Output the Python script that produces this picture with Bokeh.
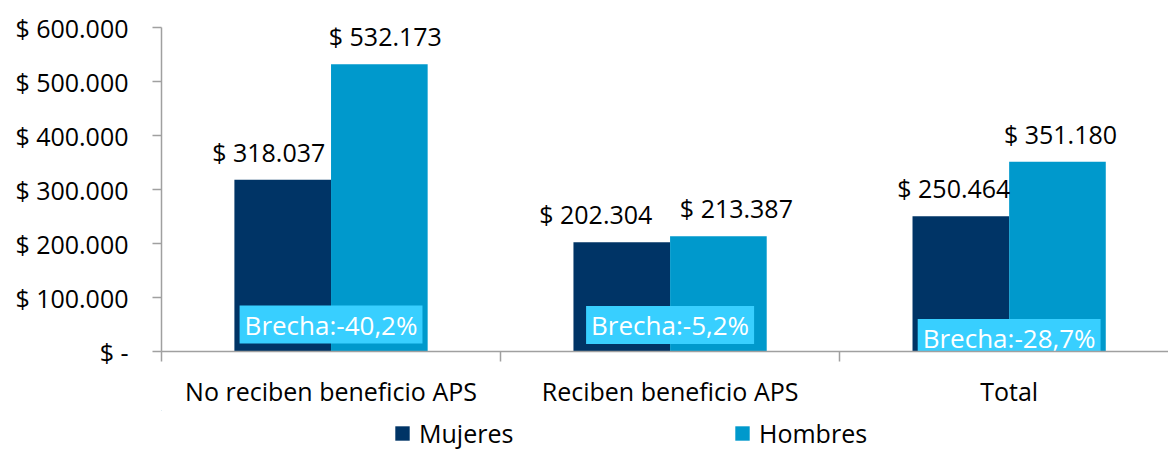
from bokeh.plotting import figure
from bokeh.layouts import column
from bokeh.models import Range1d, FixedTicker, Legend, LegendItem, ColumnDataSource
from bokeh.core.properties import value
from bokeh.embed import file_html
from bokeh.resources import INLINE

# ---- data ----
categories = ["No reciben beneficio APS", "Reciben beneficio APS", "Total"]
mujeres = [318037, 202304, 250464]
hombres = [532173, 213387, 351180]
brecha = ["Brecha:-40,2%", "Brecha:-5,2%", "Brecha:-28,7%"]
series = ["Mujeres", "Hombres"]
y_ticks = [0, 100000, 200000, 300000, 400000, 500000, 600000]

def fmt(v):
    if v == 0:
        return "$ -"
    return "$ " + f"{v:,}".replace(",", ".")

FONT = "Open Sans"
FS = "25px"
C_M = "#003466"
C_H = "#0099CC"
AXIS_C = "#A0A0A0"

# layout-only tweaks (screen px offsets of value labels, placement of gap boxes)
m_dx = [-14, -26, -7]
h_dx = [6, 18, 3]
box_y = [50000, 49000, 25000]

x = list(range(len(categories)))
bw = 0.285
src = ColumnDataSource(dict(
    x=x,
    xm=[i - bw / 2 for i in x],
    xh=[i + bw / 2 for i in x],
    m=mujeres,
    h=hombres,
    lm=[fmt(v) for v in mujeres],
    lh=[fmt(v) for v in hombres],
    mdx=m_dx,
    hdx=h_dx,
    br=brecha,
    bry=box_y,
))

p = figure(width=1168, height=410, x_range=Range1d(-0.5, 2.47), y_range=Range1d(0, 600000),
           output_backend="svg", toolbar_location=None,
           min_border_left=161, min_border_right=0, min_border_top=27, min_border_bottom=58)
p.outline_line_color = None
p.xgrid.visible = False
p.ygrid.visible = False
p.background_fill_color = "white"

p.vbar(x="xm", top="m", width=bw, bottom=0, source=src, fill_color=C_M, line_color=None)
p.vbar(x="xh", top="h", width=bw, bottom=0, source=src, fill_color=C_H, line_color=None)

p.text(x="xm", y="m", text="lm", source=src, text_align="center", text_baseline="middle",
       y_offset=-28, x_offset="mdx", text_font=value(FONT), text_font_size=FS, text_color="#000000")
p.text(x="xh", y="h", text="lh", source=src, text_align="center", text_baseline="middle",
       y_offset=-28, x_offset="hdx", text_font=value(FONT), text_font_size=FS, text_color="#000000")

p.text(x="x", y="bry", text="br", source=src, text_align="center", text_baseline="middle",
       text_font=value(FONT), text_font_size="26px", text_color="white",
       background_fill_color="#38CFFF", padding=(5, 1))

# y axis
ya = p.yaxis[0]
ya.ticker = FixedTicker(ticks=y_ticks, minor_ticks=[])
ya.major_label_overrides = {t: fmt(t) for t in y_ticks}
ya.major_label_text_font = FONT
ya.major_label_text_font_size = FS
ya.major_label_text_color = "#000000"
ya.major_tick_out = 9
ya.major_tick_in = 0
ya.minor_tick_out = 0
ya.minor_tick_in = 0
ya.major_label_standoff = 24
ya.axis_line_color = AXIS_C
ya.major_tick_line_color = AXIS_C
ya.axis_line_width = 1.5
ya.major_tick_line_width = 1.5

# x axis
xa = p.xaxis[0]
xa.ticker = FixedTicker(ticks=x, minor_ticks=[-0.5, 0.5, 1.5, 2.5])
xa.major_label_overrides = {i: c for i, c in zip(x, categories)}
xa.major_label_text_font = FONT
xa.major_label_text_font_size = FS
xa.major_label_text_color = "#000000"
xa.major_tick_out = 0
xa.major_tick_in = 0
xa.minor_tick_out = 10
xa.minor_tick_in = 0
xa.major_label_standoff = 12
xa.axis_line_color = AXIS_C
xa.minor_tick_line_color = AXIS_C
xa.axis_line_width = 1.5
xa.minor_tick_line_width = 1.5

# legend strip
lf = figure(width=1168, height=40, x_range=Range1d(0, 1), y_range=Range1d(0, 1),
            output_backend="svg", toolbar_location=None,
            min_border_left=0, min_border_right=0, min_border_top=0, min_border_bottom=0)
lf.outline_line_color = None
lf.xaxis.visible = False
lf.yaxis.visible = False
lf.xgrid.visible = False
lf.ygrid.visible = False
dummy = ColumnDataSource(dict(x=[-10], top=[6], bottom=[5]))
r1 = lf.vbar(x="x", top="top", bottom="bottom", width=0.1, source=dummy, fill_color=C_M, line_color=None)
r2 = lf.vbar(x="x", top="top", bottom="bottom", width=0.1, source=dummy, fill_color=C_H, line_color=None)
legend = Legend(items=[LegendItem(label=series[0], renderers=[r1]),
                       LegendItem(label=series[1], renderers=[r2])],
                orientation="horizontal", location=(232, 0),
                spacing=182, glyph_width=18, glyph_height=18, label_standoff=8, label_width=132,
                label_text_font=FONT, label_text_font_size=FS, label_text_color="#000000",
                border_line_color=None, background_fill_alpha=0, padding=0, margin=0)
lf.add_layout(legend)

open("out.html", "w").write(file_html(column(p, lf, spacing=0), INLINE))
